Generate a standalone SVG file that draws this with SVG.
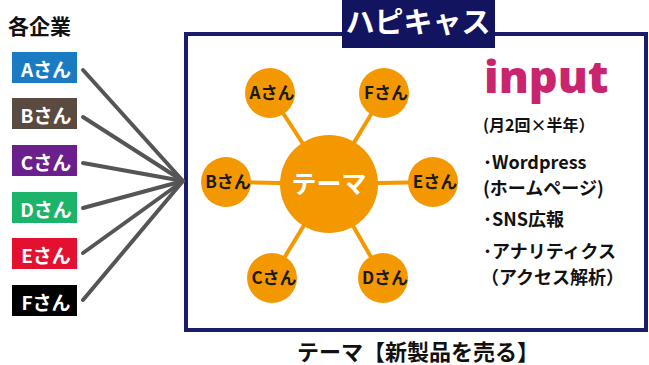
<svg xmlns="http://www.w3.org/2000/svg" width="649" height="365" viewBox="0 0 649 365">
<style>
.jp{font-family:"Noto Sans CJK JP","Noto Sans",sans-serif;font-weight:700}
.box-t{fill:#fff;font-size:19px;text-anchor:middle}
.circ{fill:#f39800}
.circ-t{fill:#1a1a1a;font-size:17px;text-anchor:middle}
.spoke{stroke:#f39800;stroke-width:4}
.feed{stroke:#555;stroke-width:4;stroke-linecap:round}
.info{fill:#111;font-size:18px}
</style>
<rect width="649" height="365" fill="#fff"/>
<g id="frame">
<rect x="186" y="34" width="460" height="296" fill="#fff" stroke="#1b1b6b" stroke-width="4"/>
</g>
<g id="title">
<rect x="342" y="0" width="153" height="48" fill="#13145f"/>
<text class="jp" x="418" y="33" font-size="29" fill="#fff" text-anchor="middle">ハピキャス</text>
</g>
<g id="connectors">
<line class="feed" x1="83" y1="70" x2="183" y2="181"/>
<line class="feed" x1="83" y1="117" x2="183" y2="181"/>
<line class="feed" x1="83" y1="163" x2="183" y2="181"/>
<line class="feed" x1="83" y1="208" x2="183" y2="181"/>
<line class="feed" x1="83" y1="253" x2="183" y2="181"/>
<line class="feed" x1="83" y1="300" x2="183" y2="181"/>
<line class="spoke" x1="329" y1="184" x2="270" y2="93"/>
<line class="spoke" x1="329" y1="184" x2="384" y2="93"/>
<line class="spoke" x1="329" y1="184" x2="226" y2="182"/>
<line class="spoke" x1="329" y1="184" x2="433" y2="182"/>
<line class="spoke" x1="329" y1="184" x2="272" y2="278"/>
<line class="spoke" x1="329" y1="184" x2="383" y2="278"/>
</g>
<g id="heading-companies"><text class="jp" x="8" y="34" font-size="21" fill="#111">各企業</text></g>
<g id="company-A"><rect x="12" y="52" width="65" height="31" fill="#1b7bc2"/><text class="jp box-t" x="46" y="77">Aさん</text></g>
<g id="company-B"><rect x="12" y="98" width="65" height="31" fill="#5b4a40"/><text class="jp box-t" x="46" y="123">Bさん</text></g>
<g id="company-C"><rect x="12" y="145" width="65" height="31" fill="#6b1f8c"/><text class="jp box-t" x="46" y="170">Cさん</text></g>
<g id="company-D"><rect x="12" y="192" width="65" height="31" fill="#1cb46a"/><text class="jp box-t" x="46" y="217">Dさん</text></g>
<g id="company-E"><rect x="12" y="238" width="65" height="31" fill="#e3112f"/><text class="jp box-t" x="46" y="263">Eさん</text></g>
<g id="company-F"><rect x="12" y="285" width="65" height="31" fill="#000"/><text class="jp box-t" x="46" y="310">Fさん</text></g>
<g id="theme"><circle class="circ" cx="329" cy="184" r="49"/><text class="jp" x="329" y="193" font-size="25" fill="#fff" text-anchor="middle">テーマ</text></g>
<g id="node-A"><circle class="circ" cx="270" cy="93" r="25"/><text class="jp circ-t" x="272" y="99">Aさん</text></g>
<g id="node-F"><circle class="circ" cx="384" cy="93" r="25"/><text class="jp circ-t" x="386" y="99">Fさん</text></g>
<g id="node-B"><circle class="circ" cx="226" cy="182" r="25"/><text class="jp circ-t" x="228" y="188">Bさん</text></g>
<g id="node-E"><circle class="circ" cx="433" cy="182" r="25"/><text class="jp circ-t" x="435" y="188">Eさん</text></g>
<g id="node-C"><circle class="circ" cx="272" cy="278" r="25"/><text class="jp circ-t" x="274" y="284">Cさん</text></g>
<g id="node-D"><circle class="circ" cx="383" cy="278" r="25"/><text class="jp circ-t" x="385" y="284">Dさん</text></g>
<g id="input">
<text x="484" y="93" font-family="'Open Sans','Noto Sans',sans-serif" font-weight="800" font-size="45" fill="#c9256e">input</text>
<text class="jp" x="483" y="131" font-size="16" fill="#111">(月2回×半年）</text>
<text class="jp info" x="483" y="169">･Wordpress</text>
<text class="jp info" x="483" y="195">(ホームページ)</text>
<text class="jp info" x="483" y="226">･SNS広報</text>
<text class="jp info" x="483" y="258">･アナリティクス</text>
<text class="jp info" x="481" y="284">（アクセス解析）</text>
</g>
<g id="caption"><text class="jp" x="418" y="360" font-size="22" fill="#111" text-anchor="middle">テーマ【新製品を売る】</text></g>
</svg>
